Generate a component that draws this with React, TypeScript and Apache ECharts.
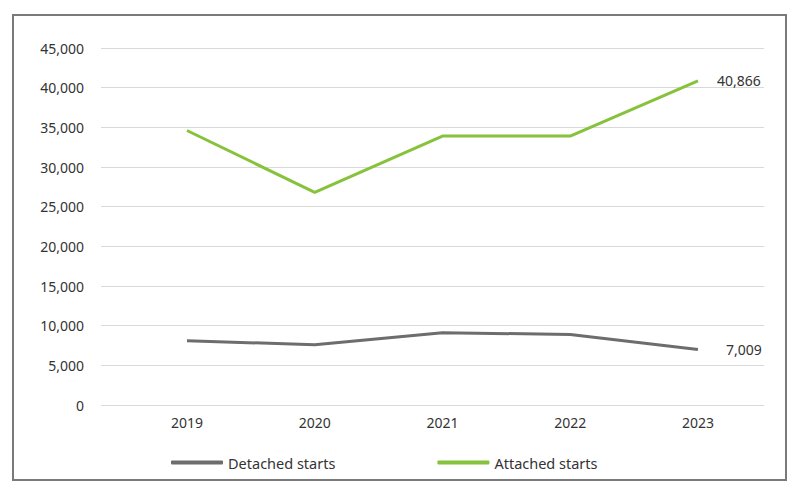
import React, { useEffect, useRef } from "react";
import * as echarts from "echarts";

const categories = ["2019", "2020", "2021", "2022", "2023"];
const detachedStarts = [8100, 7600, 9100, 8900, 7009];
const attachedStarts = [34600, 26800, 33900, 33900, 40866];
const seriesNames = ["Detached starts", "Attached starts"];

const FONT = "'Noto Sans', sans-serif";
const fmt = (v: number) => v.toLocaleString("en-US");

export default function App() {
  const ref = useRef<HTMLDivElement>(null);
  useEffect(() => {
    const chart = echarts.init(ref.current!, null, { renderer: "svg" });
    const years = categories.map((c) => Number(c));
    const pairs = (vals: number[]) => vals.map((v, i) => [years[i], v]);
    const endLabel = (dist: number) => ({
      show: true,
      distance: dist,
      formatter: (p: any) => fmt(p.value[1]),
      color: "#333",
      fontSize: 14,
      fontFamily: FONT,
    });
    chart.setOption({
      animation: false,
      backgroundColor: "#fff",
      graphic: [
        {
          type: "rect",
          shape: { x: 13, y: 15, width: 773, height: 465 },
          style: { fill: "none", stroke: "#7a7a7a", lineWidth: 2 },
          silent: true,
        },
      ],
      grid: { left: 101, right: 36, top: 48, bottom: 89 },
      xAxis: {
        type: "value",
        min: 2018.327,
        max: 2023.517,
        axisLine: { show: false },
        axisTick: { show: false },
        splitLine: { show: false },
        axisLabel: {
          customValues: years,
          formatter: (v: number) => String(Math.round(v)),
          color: "#333",
          fontSize: 14,
          fontFamily: FONT,
          margin: 10,
        },
      },
      yAxis: {
        type: "value",
        min: 0,
        max: 45000,
        interval: 5000,
        axisLine: { show: false },
        axisTick: { show: false },
        splitLine: { lineStyle: { color: "#d9d9d9", width: 1 } },
        axisLabel: {
          formatter: (v: number) => fmt(v),
          color: "#333",
          fontSize: 14,
          fontFamily: FONT,
          margin: 17,
        },
      },
      legend: {
        left: 166,
        top: 450,
        icon: "roundRect",
        itemWidth: 52,
        itemHeight: 4,
        itemGap: 102,
        textStyle: { color: "#333", fontSize: 14.5, fontFamily: FONT },
        data: seriesNames,
      },
      series: [
        {
          name: seriesNames[0],
          type: "line",
          symbol: "none",
          data: pairs(detachedStarts),
          lineStyle: { color: "#6d6d6d", width: 3 },
          itemStyle: { color: "#6d6d6d" },
          endLabel: endLabel(28),
        },
        {
          name: seriesNames[1],
          type: "line",
          symbol: "none",
          data: pairs(attachedStarts),
          lineStyle: { color: "#86c23c", width: 3 },
          itemStyle: { color: "#86c23c" },
          endLabel: endLabel(19),
        },
      ],
    });
    return () => chart.dispose();
  }, []);
  return (
    <div
      ref={ref}
      style={{ position: "fixed", left: 0, top: 0, width: 800, height: 494 }}
    />
  );
}
